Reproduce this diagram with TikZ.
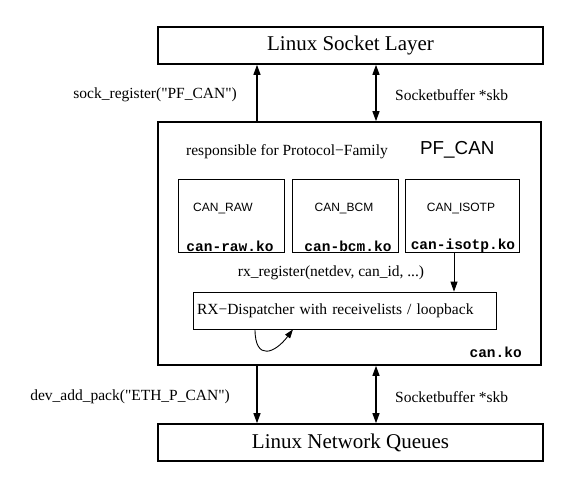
\documentclass[tikz,border=0pt]{standalone}
\usepackage{fontspec}
\setmainfont{Liberation Serif}
\setsansfont{Liberation Sans}
\setmonofont{Liberation Mono}
\usetikzlibrary{arrows.meta}

\begin{document}
\begin{tikzpicture}[x=1pt,y=-1pt,>={Triangle[width=7pt,length=10pt]},
 layer/.style={draw,line width=1.6pt,minimum width=385pt,minimum height=37pt,font=\fontsize{21}{24}\selectfont},
 proto/.style={draw,line width=0.7pt,minimum height=73pt},
 lbl/.style={font=\fontsize{15.5}{18}\selectfont,inner sep=0pt},
 fam/.style={font=\sffamily\fontsize{12}{14}\selectfont,inner sep=0pt},
 mod/.style={font=\ttfamily\bfseries\fontsize{14.5}{16}\selectfont,inner sep=0pt},
 link/.style={line width=1.2pt}]
\useasboundingbox (0,0) rectangle (573,487);
\node[layer] (sock) at (350.5,45.5) {Linux Socket Layer};
\node[draw,line width=1.6pt,minimum width=383pt,minimum height=243pt] (can) at (349.5,243.5) {};
\node[layer] (netq) at (350.5,442.5) {Linux Network Queues};
\node[lbl,anchor=west] (resp) at (186,152) {responsible for Protocol−Family};
\node[font=\sffamily\fontsize{18.8}{22}\selectfont,inner sep=0pt,anchor=west] (pf) at (420,150) {PF\_CAN};
\node[proto,minimum width=106pt] (raw) at (231,215.5) {};
\node[proto,minimum width=106pt] (bcm) at (345,215.5) {};
\node[proto,minimum width=114pt] (isotp) at (462,215.5) {};
\node[fam] (rawname) at (223,209) {CAN\_RAW};
\node[fam] (bcmname) at (344,209) {CAN\_BCM};
\node[fam] (isotpname) at (461,209) {CAN\_ISOTP};
\node[mod] (rawko) at (230,246) {can-raw.ko};
\node[mod] (bcmko) at (348,246) {can-bcm.ko};
\node[mod] (isotpko) at (463,246) {can-isotp.ko};
\node[lbl] (rxreg) at (331,273) {rx\_register(netdev, can\_id, ...)};
\node[draw,line width=0.7pt,minimum width=303pt,minimum height=37pt,lbl,text width=295pt,align=left] (rx) at (344.5,310.5) {RX−Dispatcher with receivelists / loopback};
\node[mod,anchor=east] (canko) at (522,352) {can.ko};
% arrows between the layers
\coordinate (ln) at (257,0);
\coordinate (rn) at (376,0);
\draw[link,->] (ln |- can.north) -- (ln |- sock.south);
\draw[link,<->] (rn |- can.north) -- (rn |- sock.south);
\draw[link,->] (ln |- can.south) -- (ln |- netq.north);
\draw[link,<->] (rn |- can.south) -- (rn |- netq.north);
\node[lbl,anchor=east] (sockreg) at (237,95) {sock\_register(\textquotedbl PF\_CAN\textquotedbl)};
\node[lbl,anchor=west] (skbup) at (395,95) {Socketbuffer *skb};
\node[lbl,anchor=east] (devadd) at (230,397) {dev\_add\_pack(\textquotedbl ETH\_P\_CAN\textquotedbl)};
\node[lbl,anchor=west] (skbdown) at (395,397) {Socketbuffer *skb};
% rx_register and loopback
\draw[line width=0.9pt,->] (isotp.south -| 454,0) -- (rx.north -| 454,0);
\draw[line width=0.9pt,-{Triangle[width=6pt,length=9pt]}] ([xshift=-89.5pt]rx.south) .. controls +(0,32) and +(-18,24) .. ([xshift=-51.5pt]rx.south);
\end{tikzpicture}
\end{document}
